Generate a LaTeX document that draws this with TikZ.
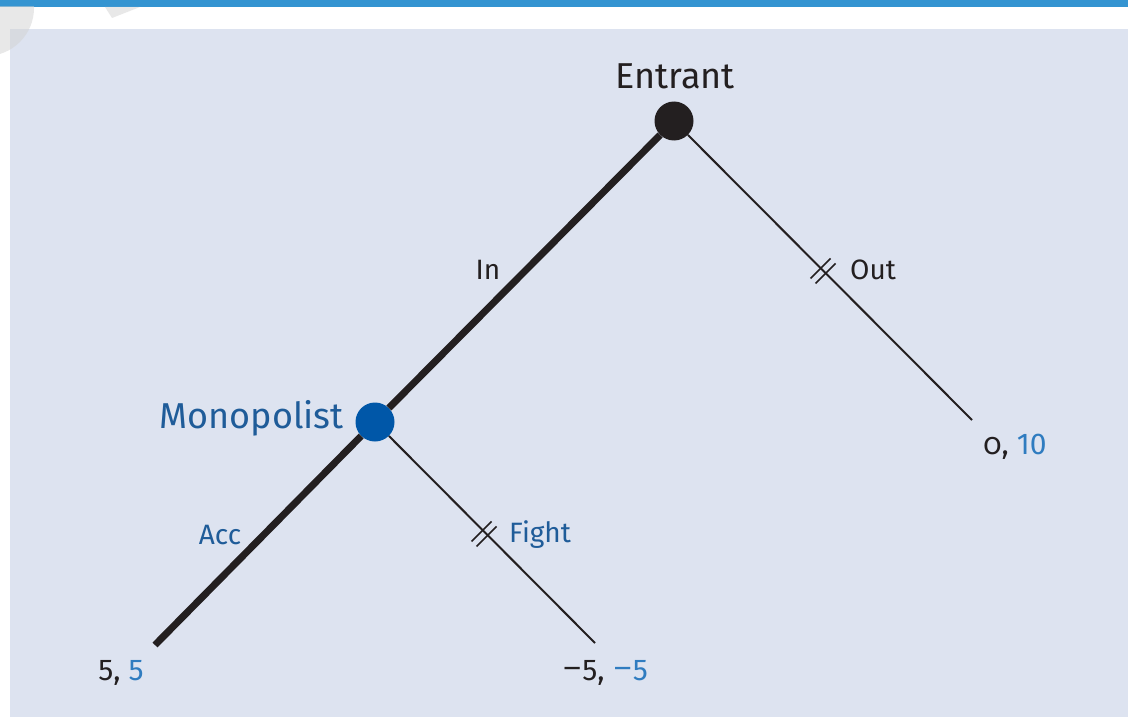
\documentclass[tikz,border=0pt]{standalone}
\usepackage{fontspec}
\setmainfont{Fira Sans}
\usetikzlibrary{calc}
\definecolor{panel}{HTML}{DDE3F0}
\definecolor{topbar}{HTML}{3494D1}
\definecolor{ink}{HTML}{231F20}
\definecolor{labblue}{HTML}{1F5C99}
\definecolor{nodeblue}{HTML}{0057A8}
\definecolor{payblue}{HTML}{2F7CC0}
\tikzset{
  x=1pt, y=-1pt,
  player/.style={circle, minimum size=39pt, inner sep=0pt, fill=#1},
  bigline/.style={draw=ink, line width=7pt},
  thinline/.style={draw=ink, line width=2pt},
  slash/.style={draw=ink, line width=1.6pt},
  pname/.style={font=\fontsize{36}{40}\selectfont, inner sep=0pt},
  lab/.style={font=\fontsize{28}{32}\selectfont, inner sep=0pt},
  pay/.style={font=\fontsize{30}{34}\selectfont, inner sep=0pt, text=ink}
}
\newcommand{\mns}{\raisebox{0.08em}{\scalebox{1.35}[1]{−}}}
\begin{document}
\begin{tikzpicture}
\useasboundingbox (0,0) rectangle (1128,717);
\fill[white] (0,0) rectangle (1128,717);
\fill[panel] (10,29) rectangle (1128,717);
\fill[topbar] (0,0) rectangle (1128,7);
% faded watermark
\begin{scope}
\clip (0,7) rectangle (1128,717);
\fill[gray!35, opacity=0.5] (-14,8) circle (48);
\fill[gray!35, opacity=0.5] (105,7) -- (140,7) -- (112,18) -- cycle;
\end{scope}
% players
\node[player=ink] (E) at (674,121) {};
\node[player=nodeblue] (M) at (375,422) {};
\coordinate (A) at (155,645);
\coordinate (F) at (595,643);
\coordinate (O) at (972,420);
% branches
\draw[bigline] (E) -- (M);
\draw[bigline] (M) -- (A);
\draw[thinline] (E) -- (O);
\draw[thinline] (M) -- (F);
% deletion marks
\coordinate (so) at (823,271);
\coordinate (sf) at (484,534);
\foreach \c in {so,sf}{
  \draw[slash] ($(\c)+(-2.5,-2.5)+(-10,10)$) -- ($(\c)+(-2.5,-2.5)+(10,-10)$);
  \draw[slash] ($(\c)+(2.5,2.5)+(-10,10)$) -- ($(\c)+(2.5,2.5)+(10,-10)$);
}
% player names
\node[pname, text=ink] (tE) at (675,76) {Entrant};
\node[pname, text=labblue, anchor=east] (tM) at (344,418) {Monopolist};
% action labels
\node[lab, text=ink] (tIn) at (488,270) {In};
\node[lab, text=ink, anchor=west] (tOut) at (850,270) {Out};
\node[lab, text=labblue] (tAcc) at (220,535) {Acc};
\node[lab, text=labblue, anchor=west] (tFight) at (509,535) {Fight};
% payoffs
\node[pay] (pA) at (121,673) {5, \textcolor{payblue}{5}};
\node[pay] (pF) at (605,673) {\mns5, \textcolor{payblue}{\mns5}};
\node[pay] (pO) at (1015,447) {{\addfontfeature{Numbers=OldStyle}0}, \textcolor{payblue}{10}};
\end{tikzpicture}
\end{document}
